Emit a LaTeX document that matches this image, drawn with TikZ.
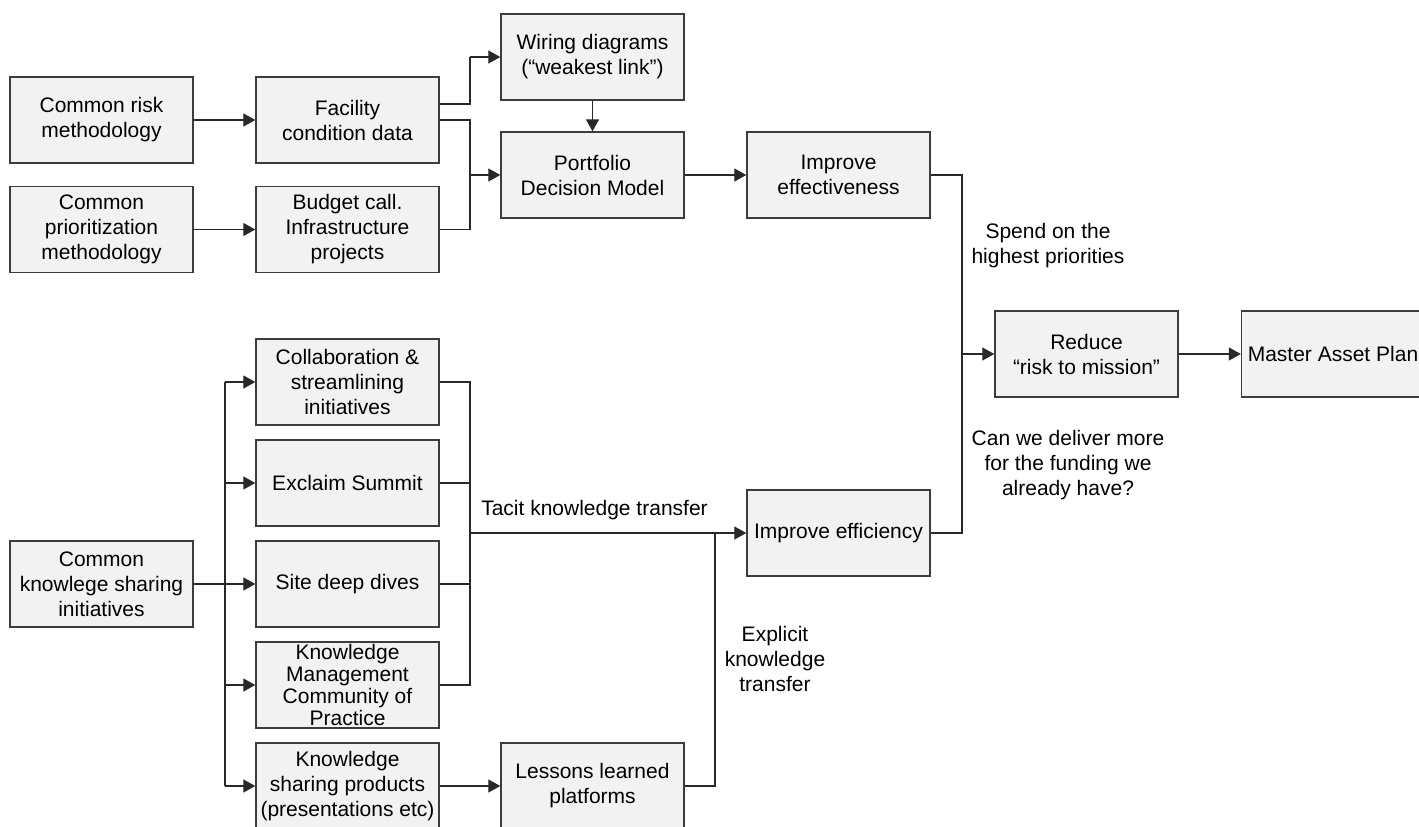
\documentclass[tikz,border=0pt]{standalone}
\usepackage{fontspec}
\setmainfont{Liberation Sans}
\usetikzlibrary{arrows.meta,calc}
\definecolor{boxfill}{RGB}{242,242,242}
\definecolor{boxline}{RGB}{60,60,60}
\definecolor{conn}{RGB}{40,40,40}
\begin{document}
\begin{tikzpicture}[x=1pt,y=-1pt,
  font=\fontsize{21}{25}\selectfont,
  box/.style={draw=boxline,fill=boxfill,line width=1.4pt,minimum width=183pt,minimum height=86pt,align=center,inner sep=2pt},
  lbl/.style={align=center,inner sep=0pt},
  wire/.style={draw=conn,line width=1.3pt},
  arr/.style={wire,-{Triangle[length=12pt,width=13pt]}}]
\clip (0,0) rectangle (1419,827);
\fill[white] (0,0) rectangle (1419,827);
% top part
\node[box] (cr)  at (101.5,120)   {Common risk\\methodology};
\node[box] (cp)  at (101.5,229.5) {Common\\prioritization\\methodology};
\node[box] (fc)  at (347.5,120)   {Facility\\condition data};
\node[box] (bc)  at (347.5,229.5) {Budget call.\\Infrastructure\\projects};
\node[box] (wd)  at (592.5,57)    {Wiring diagrams\\(“weakest link”)};
\node[box] (pdm) at (592.5,175)   {Portfolio\\Decision Model};
\node[box] (ie)  at (838.5,175)   {Improve\\effectiveness};
\node[box] (red) at (1086.5,354)  {Reduce\\“risk to mission”};
\node[box] (map) at (1333,354)    {Master Asset Plan};
% bottom part
\node[box] (ck)  at (101.5,584)   {Common\\knowlege sharing\\initiatives};
\node[box] (col) at (347.5,382)   {Collaboration \&\\streamlining\\initiatives};
\node[box] (ex)  at (347.5,483)   {Exclaim Summit};
\node[box] (sdd) at (347.5,584)   {Site deep dives};
\node[box] (km)  at (347.5,685)   {Knowledge\\[-3pt]Management\\[-3pt]Community of\\[-3pt]Practice};
\node[box] (ksp) at (347.5,786)   {Knowledge\\sharing products\\(presentations etc)};
\node[box] (ll)  at (592.5,786)   {Lessons learned\\platforms};
\node[box] (ief) at (838.5,533)   {Improve efficiency};
% labels
\node[lbl] (t1) at (594.5,510) {Tacit knowledge transfer};
\node[lbl] (t2) at (1048,246) {Spend on the\\highest priorities};
\node[lbl] (t3) at (1068,465) {Can we deliver more\\for the funding we\\already have?};
\node[lbl] (t4) at (775,659) {Explicit\\knowledge\\transfer};
% junction coordinates
\coordinate (j1) at (470,175);
\coordinate (jw) at (470,57);
\coordinate (j2) at (962,354);
\coordinate (tr) at (225,584);
\coordinate (j3) at (470,533);
\coordinate (j4) at (715,533);
% top connectors
\draw[arr] (cr) -- (fc);
\draw[arr] (cp) -- (bc);
\draw[wire] ($(fc.east)+(0,-16)$) -| (jw);
\draw[arr] (jw) -- (wd.west);
\draw[wire] (fc.east) -| (j1);
\draw[wire] (bc.east) -| (j1);
\draw[arr] (j1) -- (pdm.west);
\draw[arr] (wd.south) -- (pdm.north);
\draw[arr] (pdm) -- (ie);
\draw[wire] (ie.east) -| (j2);
\draw[wire] (ief.east) -| (j2);
\draw[arr] (j2) -- (red.west);
\draw[arr] (red) -- (map);
% bottom connectors
\draw[arr] (ck) -- (sdd);
\draw[wire] (col.west -| tr) -- (ksp.west -| tr);
\draw[arr] (col.west -| tr) -- (col.west);
\draw[arr] (ex.west -| tr) -- (ex.west);
\draw[arr] (km.west -| tr) -- (km.west);
\draw[arr] (ksp.west -| tr) -- (ksp.west);
\draw[wire] (col.east) -| (j3);
\draw[wire] (km.east) -| (j3);
\draw[wire] (ex.east) -- (ex.east -| j3);
\draw[wire] (sdd.east) -- (sdd.east -| j3);
\draw[arr] (j3) -- (ief.west);
\draw[arr] (ksp) -- (ll);
\draw[wire] (ll.east) -| (j4);
\end{tikzpicture}
\end{document}
